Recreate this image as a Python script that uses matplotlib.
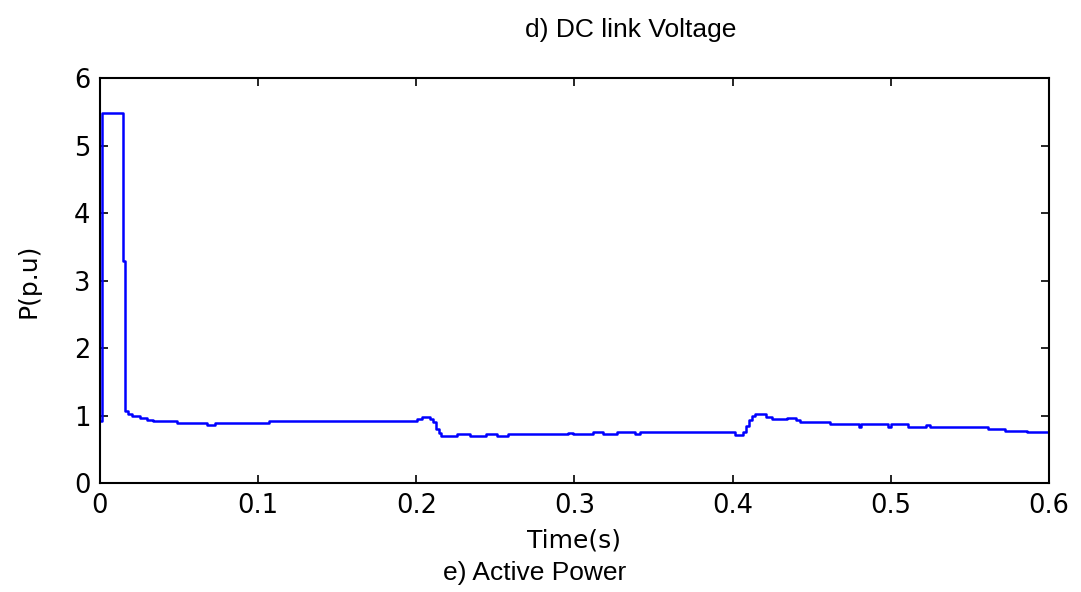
import matplotlib.pyplot as plt

# step breakpoints (time in s, active power in p.u.)
time_s = [0.0, 0.001, 0.0147, 0.016, 0.0177, 0.020, 0.025, 0.030, 0.0335,
          0.0487, 0.0676, 0.0727, 0.107, 0.2004, 0.2035, 0.2086, 0.2105,
          0.2124, 0.2143, 0.2155, 0.2257, 0.2339, 0.244, 0.251, 0.258,
          0.2958, 0.299, 0.3116, 0.318, 0.3268, 0.3382, 0.3413, 0.4014,
          0.4065, 0.4083, 0.4102, 0.4121, 0.414, 0.421, 0.4248, 0.4343,
          0.44, 0.4425, 0.4614, 0.4798, 0.481, 0.4981, 0.5, 0.5107, 0.5221,
          0.5247, 0.5613, 0.572, 0.586, 0.6]
p_pu = [0.92, 5.48, 3.29, 1.07, 1.02, 0.99, 0.96, 0.94, 0.92,
        0.89, 0.86, 0.89, 0.92, 0.95, 0.98, 0.95, 0.90,
        0.80, 0.74, 0.69, 0.72, 0.69, 0.72, 0.69, 0.726,
        0.745, 0.726, 0.755, 0.726, 0.755, 0.726, 0.755, 0.716,
        0.76, 0.85, 0.93, 1.0, 1.02, 0.98, 0.95, 0.965,
        0.93, 0.90, 0.87, 0.835, 0.87, 0.835, 0.87, 0.835, 0.865,
        0.835, 0.805, 0.775, 0.75, 0.75]

x_ticks = [0, 0.1, 0.2, 0.3, 0.4, 0.5, 0.6]
x_tick_labels = ['0', '0.1', '0.2', '0.3', '0.4', '0.5', '0.6']
y_ticks = [0, 1, 2, 3, 4, 5, 6]

fig = plt.figure(figsize=(10.81, 5.92), dpi=100)
ax = fig.add_axes([0.0925, 0.1841, 0.8779, 0.6841])

ax.plot(time_s, p_pu, color='#0000ff', linewidth=1.8, drawstyle='steps-post')

ax.set_xlim(0, 0.6)
ax.set_ylim(0, 6)
ax.set_xticks(x_ticks)
ax.set_xticklabels(x_tick_labels)
ax.set_yticks(y_ticks)

ax.tick_params(direction='in', length=6, width=1.2, top=True, right=True,
               labelsize=18.5, pad=7)
for lab in ax.get_xticklabels() + ax.get_yticklabels():
    lab.set_family('DejaVu Sans')
for sp in ax.spines.values():
    sp.set_linewidth(1.5)

ax.set_xlabel('Time(s)', fontsize=18, family='DejaVu Sans', labelpad=7)
ax.set_ylabel('P(p.u)', fontsize=18, family='DejaVu Sans', labelpad=24)

fig.text(631 / 1081, 0.949, 'd) DC link Voltage', fontsize=19,
         family='Liberation Sans', ha='center', va='center')
fig.text(534.5 / 1081, 0.032, 'e) Active Power', fontsize=19,
         family='Liberation Sans', ha='center', va='center')

fig.savefig('out.png', dpi=100)
